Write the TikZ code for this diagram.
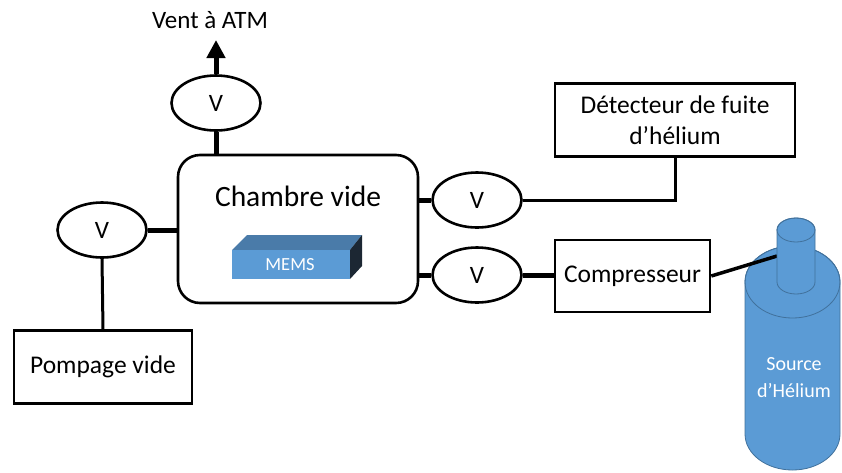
\documentclass[tikz,border=0pt]{standalone}
\usepackage{fontspec}
\setmainfont{Carlito}
\usetikzlibrary{shapes.geometric,arrows.meta}
\definecolor{cylfill}{HTML}{5B9BD5}
\definecolor{cylline}{HTML}{41719C}
\definecolor{memstop}{HTML}{4A7BA9}
\definecolor{memsside}{HTML}{1C2733}
\begin{document}
\begin{tikzpicture}[x=1pt,y=-1pt,
  valve/.style={ellipse, draw, line width=2.6pt, minimum width=89pt, minimum height=55pt, inner sep=0pt, font=\fontsize{25}{28}\selectfont},
  unit/.style={rectangle, draw, line width=2.6pt, inner sep=0pt, font=\fontsize{25.5}{31}\selectfont, align=center},
  thickpipe/.style={line width=5pt},
  thinpipe/.style={line width=3pt},
  cyl/.style={fill=cylfill, draw=cylline, line width=0.8pt}]
\useasboundingbox (0,0) rectangle (842,472);

% vacuum chamber
\node[unit, rounded corners=22pt, minimum width=240pt, minimum height=148pt] (chamber) at (298,229) {};
\node[font=\fontsize{29.5}{32}\selectfont] (chamberlbl) at (298,196) {Chambre vide};

% MEMS block
\fill[memstop] (232,250) -- (247,235) -- (362,235) -- (350,250) -- cycle;
\fill[memsside] (350,250) -- (362,235) -- (362,266) -- (350,279) -- cycle;
\fill[cylfill] (232,250) rectangle (350,279);
\node[text=white, font=\fontsize{18.5}{20}\selectfont] (mems) at (290,265) {MEMS};

% valves
\node[valve] (vtop) at (216,103) {V};
\node[valve] (vleft) at (102,230) {V};
\node[valve] (vdet) at (477,200) {V};
\node[valve] (vcomp) at (477,275) {V};

% units
\node[unit, minimum width=178pt, minimum height=73pt] (pump) at (103,367) {Pompage vide};
\node[unit, minimum width=240pt, minimum height=73pt] (det) at (675,120) {Détecteur de fuite\\d’hélium};
\node[unit, minimum width=155pt, minimum height=72pt] (comp) at (632.5,276) {Compresseur};

% vent to atmosphere
\coordinate (venttip) at (216,40);
\draw[thickpipe, -{Triangle[length=18pt,width=18pt]}] (vtop.north) -- (venttip);
\node[font=\fontsize{25}{28}\selectfont] (ventlbl) at (210,20) {Vent à ATM};

% piping
\draw[thickpipe] (vtop.south) -- (vtop.south |- chamber.north);
\draw[thickpipe] (vleft.east) -- (vleft.east -| chamber.west);
\draw[thinpipe] (vleft.south) -- (pump.north);
\draw[thickpipe] (chamber.east |- vdet.west) -- (vdet.west);
\draw[thinpipe] (vdet.east) -| (det.south);
\draw[thickpipe] (chamber.east |- vcomp.west) -- (vcomp.west);
\draw[thickpipe] (vcomp.east) -- (vcomp.east -| comp.west);

% helium bottle
\fill[cyl] (745,282) -- (745,434) arc[start angle=180, end angle=360, x radius=47.5pt, y radius=36pt] -- (840,282) arc[start angle=0, end angle=180, x radius=47.5pt, y radius=36pt] -- cycle;
\draw[cylline, line width=0.8pt] (792.5,282) ellipse[x radius=47.5pt, y radius=36pt];
\coordinate (neckleft) at (777,256);
\draw[thinpipe, line width=3.5pt] (comp.east) -- (neckleft);
\fill[cyl] (777,230) -- (777,282) arc[start angle=180, end angle=360, x radius=19pt, y radius=12pt] -- (815,230) arc[start angle=0, end angle=180, x radius=19pt, y radius=12pt] -- cycle;
\draw[cylline, line width=0.8pt] (796,230) ellipse[x radius=19pt, y radius=12pt];
\node[text=white, align=center, font=\fontsize{20}{27}\selectfont] (bottlelbl) at (794,378) {Source\\d’Hélium};
\end{tikzpicture}
\end{document}
